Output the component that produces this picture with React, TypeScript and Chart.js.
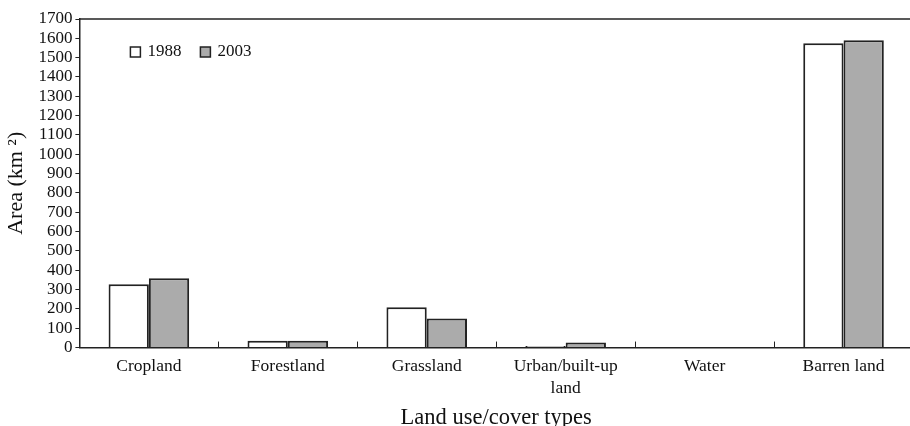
import React, { useEffect, useRef } from "react";
import { Chart, registerables } from "chart.js";

Chart.register(...registerables);

const categories: (string | string[])[] = [
  "Cropland",
  "Forestland",
  "Grassland",
  ["Urban/built-up", "land"],
  "Water",
  "Barren land",
];
const seriesLabels = ["1988", "2003"];
const values1988 = [327, 35, 208, 8, 0, 1575];
const values2003 = [358, 35, 150, 26, 0, 1590];
const yMin = 0;
const yMax = 1700;
const yStep = 100;
const xTitle = "Land use/cover types";
const yTitle = "Area (km \u00B2)";

const FONT = "'Liberation Serif', 'Times New Roman', serif";

const framePlugin = {
  id: "framePlugin",
  afterDraw(chart: any) {
    const { ctx, chartArea } = chart;
    const xs = chart.scales.x;
    ctx.save();
    ctx.strokeStyle = "#222";
    ctx.lineWidth = 1.5;
    ctx.beginPath();
    ctx.moveTo(chartArea.left, chartArea.top);
    ctx.lineTo(chartArea.right, chartArea.top);
    ctx.stroke();
    ctx.lineWidth = 1;
    const n = chart.data.labels.length;
    for (let i = 1; i < n; i++) {
      const x = (xs.getPixelForTick(i - 1) + xs.getPixelForTick(i)) / 2;
      ctx.beginPath();
      ctx.moveTo(Math.round(x) + 0.5, chartArea.bottom);
      ctx.lineTo(Math.round(x) + 0.5, chartArea.bottom - 6);
      ctx.stroke();
    }
    let lx = chartArea.left + 51;
    const ly = chartArea.top + 33;
    ctx.font = `17px ${FONT}`;
    ctx.textBaseline = "middle";
    ctx.textAlign = "left";
    chart.data.datasets.forEach((ds: any) => {
      ctx.fillStyle = ds.backgroundColor;
      ctx.fillRect(lx, ly - 5, 10, 10);
      ctx.strokeStyle = "#222";
      ctx.lineWidth = 1.5;
      ctx.strokeRect(lx, ly - 5, 10, 10);
      ctx.fillStyle = "#111";
      ctx.fillText(ds.label, lx + 17, ly);
      lx += 70;
    });
    ctx.restore();
  },
};

export default function App() {
  const ref = useRef<HTMLCanvasElement | null>(null);
  useEffect(() => {
    if (!ref.current) return;
    const chart = new Chart(ref.current, {
      type: "bar",
      data: {
        labels: categories,
        datasets: [
          {
            label: seriesLabels[0],
            data: values1988,
            backgroundColor: "#ffffff",
            borderColor: "#222222",
            borderWidth: 2,
            categoryPercentage: 0.58,
            barPercentage: 1,
          },
          {
            label: seriesLabels[1],
            data: values2003,
            backgroundColor: "#ababab",
            borderColor: "#222222",
            borderWidth: 2,
            categoryPercentage: 0.58,
            barPercentage: 1,
          },
        ],
      },
      options: {
        animation: false,
        responsive: true,
        maintainAspectRatio: false,
        layout: { padding: { top: 19, left: 3, right: 0, bottom: 0 } },
        plugins: {
          legend: { display: false },
          tooltip: { enabled: false },
        },
        scales: {
          x: {
            grid: { display: false, drawTicks: false },
            border: { color: "#222", width: 1.5 },
            ticks: {
              color: "#111",
              font: { family: FONT, size: 17.5, lineHeight: 1.27 },
              padding: 8,
              maxRotation: 0,
              autoSkip: false,
            },
            title: {
              display: true,
              text: xTitle,
              color: "#111",
              font: { family: FONT, size: 22.5, lineHeight: 1.2 },
              padding: { top: -3.5, bottom: -5.5 },
            },
          },
          y: {
            min: yMin,
            max: yMax,
            grid: { drawOnChartArea: false, tickLength: 4, color: "#222" },
            border: { color: "#222", width: 1.5 },
            ticks: {
              stepSize: yStep,
              autoSkip: false,
              color: "#111",
              font: { family: FONT, size: 17 },
              padding: 3,
              callback: (v: any) => String(v),
            },
            title: {
              display: true,
              text: yTitle,
              color: "#111",
              font: { family: FONT, size: 22 },
              padding: { top: 0, bottom: 6 },
            },
          },
        },
      },
      plugins: [framePlugin],
    });
    return () => chart.destroy();
  }, []);
  return (
    <div
      style={{
        position: "fixed",
        left: 0,
        top: 0,
        width: 910,
        height: 426,
        overflow: "hidden",
        background: "#fff",
      }}
    >
      <div style={{ position: "relative", width: 913, height: 426 }}>
        <canvas ref={ref} />
      </div>
    </div>
  );
}
